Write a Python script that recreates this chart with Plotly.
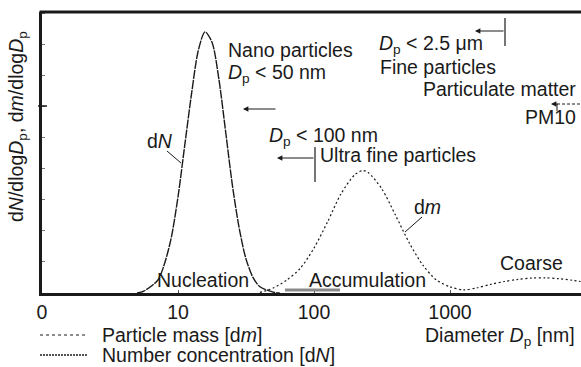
import plotly.graph_objects as go

# ---- data ----
dN_diam = [5.0, 5.6, 7.1, 7.9, 8.9, 10.0, 11.2, 12.6, 14.1, 15.8, 17.8, 20.0, 22.4, 25.1, 28.2, 31.6, 35.5, 39.8, 50.1, 56.0]
dN_vals = [0.0, 0.06, 0.41, 0.9, 1.76, 3.1, 4.75, 6.45, 7.82, 8.42, 8.08, 6.88, 5.2, 3.48, 2.08, 1.1, 0.51, 0.21, 0.03, 0.0]

dm_diam = [40, 44.7, 50.1, 63.1, 79.4, 100, 126, 158, 200, 229, 251, 316, 398, 501, 631, 794, 1000, 1259, 1585, 1995, 2512, 3162, 3981, 5012, 6310, 7943, 9120]
dm_vals = [0.02, 0.08, 0.16, 0.42, 0.8, 1.45, 2.3, 3.2, 3.82, 3.95, 3.88, 3.35, 2.5, 1.62, 0.9, 0.42, 0.2, 0.1, 0.17, 0.28, 0.37, 0.44, 0.48, 0.49, 0.46, 0.41, 0.37]

x_tickvals = [1, 10, 100, 1000]
x_ticktext = ["0", "10", "100", "1000"]
y_tickvals = [1, 2, 3, 4, 5, 6, 7, 8, 9]

FONT = "Liberation Sans, Arial, sans-serif"
FS = 19.5
INK = "#1a1a1a"

L, R, T, B = 42, 581, 12, 293
def px(x):
    return (x - L) / (R - L)
def py(y):
    return (B - y) / (B - T)

fig = go.Figure()
fig.add_trace(go.Scatter(x=dm_diam, y=dm_vals, mode="lines", name="Particle mass [d<i>m</i>]",
                         line=dict(color=INK, width=1.2, dash="2px,2.5px", shape="spline", smoothing=0.8),
                         showlegend=False))
fig.add_trace(go.Scatter(x=dN_diam, y=dN_vals, mode="lines", name="Number concentration [d<i>N</i>]",
                         line=dict(color=INK, width=1.4, dash="9px,1px", shape="spline", smoothing=0.8),
                         showlegend=False))

shapes = []
def seg(x0, y0, x1, y1, w=1.2, dash=None, color=INK):
    d = dict(type="line", xref="paper", yref="paper", x0=px(x0), y0=py(y0), x1=px(x1), y1=py(y1),
             line=dict(color=color, width=w))
    if dash:
        d["line"]["dash"] = dash
    shapes.append(d)

# top frame line
seg(39.5, 12, 581, 12, w=3)
# longer tick at y=6
seg(38, 106, 47, 106, w=1.5)
# grey bar on the axis
shapes.append(dict(type="rect", xref="paper", yref="paper", x0=px(285), x1=px(340), y0=py(291.5), y1=py(288.5),
                   line=dict(width=0), fillcolor="#8a8a8a"))
# brackets
seg(315, 147, 315, 182)
seg(505, 18, 505, 46)
# PM10 marker
seg(557, 104, 581, 104, w=1, dash="3px,2px")
seg(557, 104, 557, 111, w=1)
# leader lines
seg(167, 151, 181, 163, w=1)
seg(422, 217, 405, 232, w=1)
# legend samples
seg(40, 335, 88, 335, w=1.1, dash="3px,3px")
seg(40, 355, 88, 355, w=1.3, dash="2px,1px")

ann = []
def txt(t, x, y, xa="left", angle=0):
    ann.append(dict(text=t, xref="paper", yref="paper", x=px(x), y=py(y), xanchor=xa, yanchor="middle",
                    showarrow=False, textangle=angle, font=dict(family=FONT, size=FS, color=INK)))
def arrow(hx, hy, tx, ty):
    ann.append(dict(text="", xref="paper", yref="paper", x=px(hx), y=py(hy), ax=tx - hx, ay=ty - hy,
                    axref="pixel", ayref="pixel", showarrow=True, arrowhead=2, arrowsize=0.9,
                    arrowwidth=1.2, arrowcolor=INK))

txt("Nano particles", 226, 50)
txt("<i>D</i><sub>p</sub> &lt; 50 nm", 226, 73)
arrow(243, 109, 277, 109)
txt("<i>D</i><sub>p</sub> &lt; 100 nm", 267, 136)
arrow(277, 158, 315, 158)
txt("Ultra fine particles", 318, 155)
txt("<i>D</i><sub>p</sub> &lt; 2.5 μm", 377, 45)
arrow(475, 31, 505, 31)
txt("Fine particles", 378, 67)
txt("Particulate matter", 578, 89, xa="right")
txt("PM10", 578, 117, xa="right")
arrow(551, 104, 559, 104)
txt("d<i>N</i>", 145, 141)
txt("d<i>m</i>", 412, 207)
txt("Nucleation", 155, 280)
txt("Accumulation", 307, 280)
txt("Coarse", 498, 263)
txt("Diameter <i>D</i><sub>p</sub> [nm]", 577, 336, xa="right")
txt("d<i>N</i>/dlog<i>D</i><sub>p</sub>, d<i>m</i>/dlog<i>D</i><sub>p</sub>", 17, 127, xa="center", angle=-90)
txt("Particle mass [d<i>m</i>]", 100, 335)
txt("Number concentration [d<i>N</i>]", 100, 355)

fig.update_layout(
    width=581, height=367,
    margin=dict(l=L, r=581 - R, t=T, b=367 - B),
    paper_bgcolor="white", plot_bgcolor="white",
    font=dict(family=FONT, size=FS, color=INK),
    shapes=shapes, annotations=ann,
    xaxis=dict(type="log", range=[0, 3.963], showgrid=False, zeroline=False,
               showline=True, linewidth=3, linecolor=INK,
               tickmode="array", tickvals=x_tickvals, ticktext=x_ticktext,
               ticks="inside", ticklen=3, tickwidth=1, tickcolor="#555",
               tickfont=dict(family=FONT, size=FS, color=INK)),
    yaxis=dict(range=[0, 9.06], showgrid=False, zeroline=False,
               showline=True, linewidth=3, linecolor=INK,
               tickmode="array", tickvals=y_tickvals, showticklabels=False,
               ticks="inside", ticklen=3, tickwidth=1, tickcolor="#777"),
)

fig.write_html("out.html")
